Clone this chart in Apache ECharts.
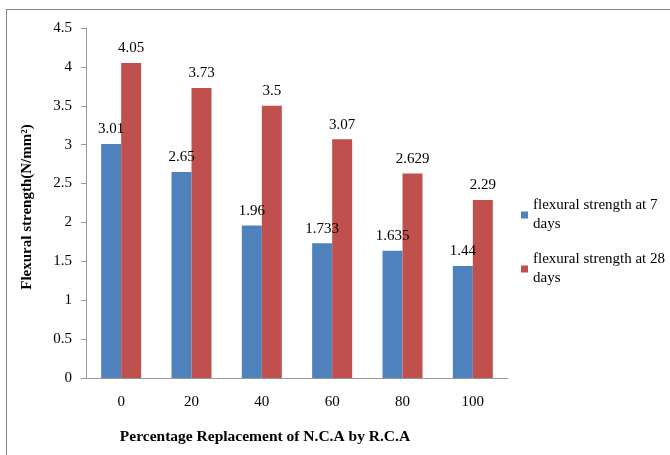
<!DOCTYPE html>
<html>
<head>
<meta charset="utf-8">
<script src="https://cdn.jsdelivr.net/npm/echarts@6/dist/echarts.min.js"></script>
<style>
html,body{margin:0;padding:0;background:#fff;}
#chart{width:670px;height:455px;}
</style>
</head>
<body>
<div id="chart"></div>
<script>
// Flexural strength vs. percentage of natural coarse aggregate replaced by recycled aggregate
var categories = ['0', '20', '40', '60', '80', '100'];
var strength7 = [3.01, 2.65, 1.96, 1.733, 1.635, 1.44];
var strength28 = [4.05, 3.73, 3.5, 3.07, 2.629, 2.29];
var seriesNames = ['flexural strength at 7\ndays', 'flexural strength at 28\ndays'];
var xTitle = 'Percentage Replacement of N.C.A by R.C.A';
var yTitle = 'Flexural strength(N/mm²)';

var font = '"Liberation Serif", "Times New Roman", serif';
var chart = echarts.init(document.getElementById('chart'));

var labelStyle = {
  show: true,
  position: 'top',
  distance: 7,
  fontFamily: font,
  fontSize: 15,
  color: '#000'
};

chart.setOption({
  animation: false,
  backgroundColor: '#fff',
  textStyle: { fontFamily: font },
  grid: { left: 86, top: 28, width: 422, height: 350, containLabel: false },
  legend: {
    orient: 'vertical',
    left: 516,
    top: 191,
    itemWidth: 7,
    itemHeight: 7,
    itemGap: 16,
    icon: 'rect',
    textStyle: { fontFamily: font, fontSize: 15, color: '#000', lineHeight: 19 },
    data: seriesNames
  },
  xAxis: {
    type: 'category',
    data: categories,
    axisLine: { lineStyle: { color: '#999', width: 1 } },
    axisTick: { show: false },
    axisLabel: { fontFamily: font, fontSize: 15, color: '#000', margin: 17 }
  },
  yAxis: {
    type: 'value',
    min: 0,
    max: 4.5,
    interval: 0.5,
    axisLine: { show: true, lineStyle: { color: '#999', width: 1 } },
    axisTick: { show: true, length: 5, lineStyle: { color: '#999' } },
    splitLine: { show: false },
    axisLabel: { fontFamily: font, fontSize: 15, color: '#000', margin: 14 }
  },
  series: [
    {
      name: seriesNames[0],
      type: 'bar',
      data: strength7,
      barWidth: 20,
      barGap: '0%',
      itemStyle: { color: '#4F81BD' },
      label: labelStyle
    },
    {
      name: seriesNames[1],
      type: 'bar',
      data: strength28,
      barWidth: 20,
      barGap: '0%',
      itemStyle: { color: '#C0504D' },
      label: labelStyle
    }
  ],
  graphic: [
    { type: 'line', shape: { x1: 6, y1: 9.5, x2: 670, y2: 9.5 }, style: { stroke: '#888', lineWidth: 1 } },
    { type: 'line', shape: { x1: 6.5, y1: 9, x2: 6.5, y2: 455 }, style: { stroke: '#888', lineWidth: 1 } },
    {
      type: 'text', x: 265, y: 437,
      style: { text: xTitle, font: 'bold 15.5px ' + font, fill: '#000', textAlign: 'center', textVerticalAlign: 'middle' }
    },
    {
      type: 'text', x: 27, y: 207, rotation: Math.PI / 2,
      style: { text: yTitle, font: 'bold 15px ' + font, fill: '#000', textAlign: 'center', textVerticalAlign: 'middle' }
    }
  ]
});
</script>
</body>
</html>
